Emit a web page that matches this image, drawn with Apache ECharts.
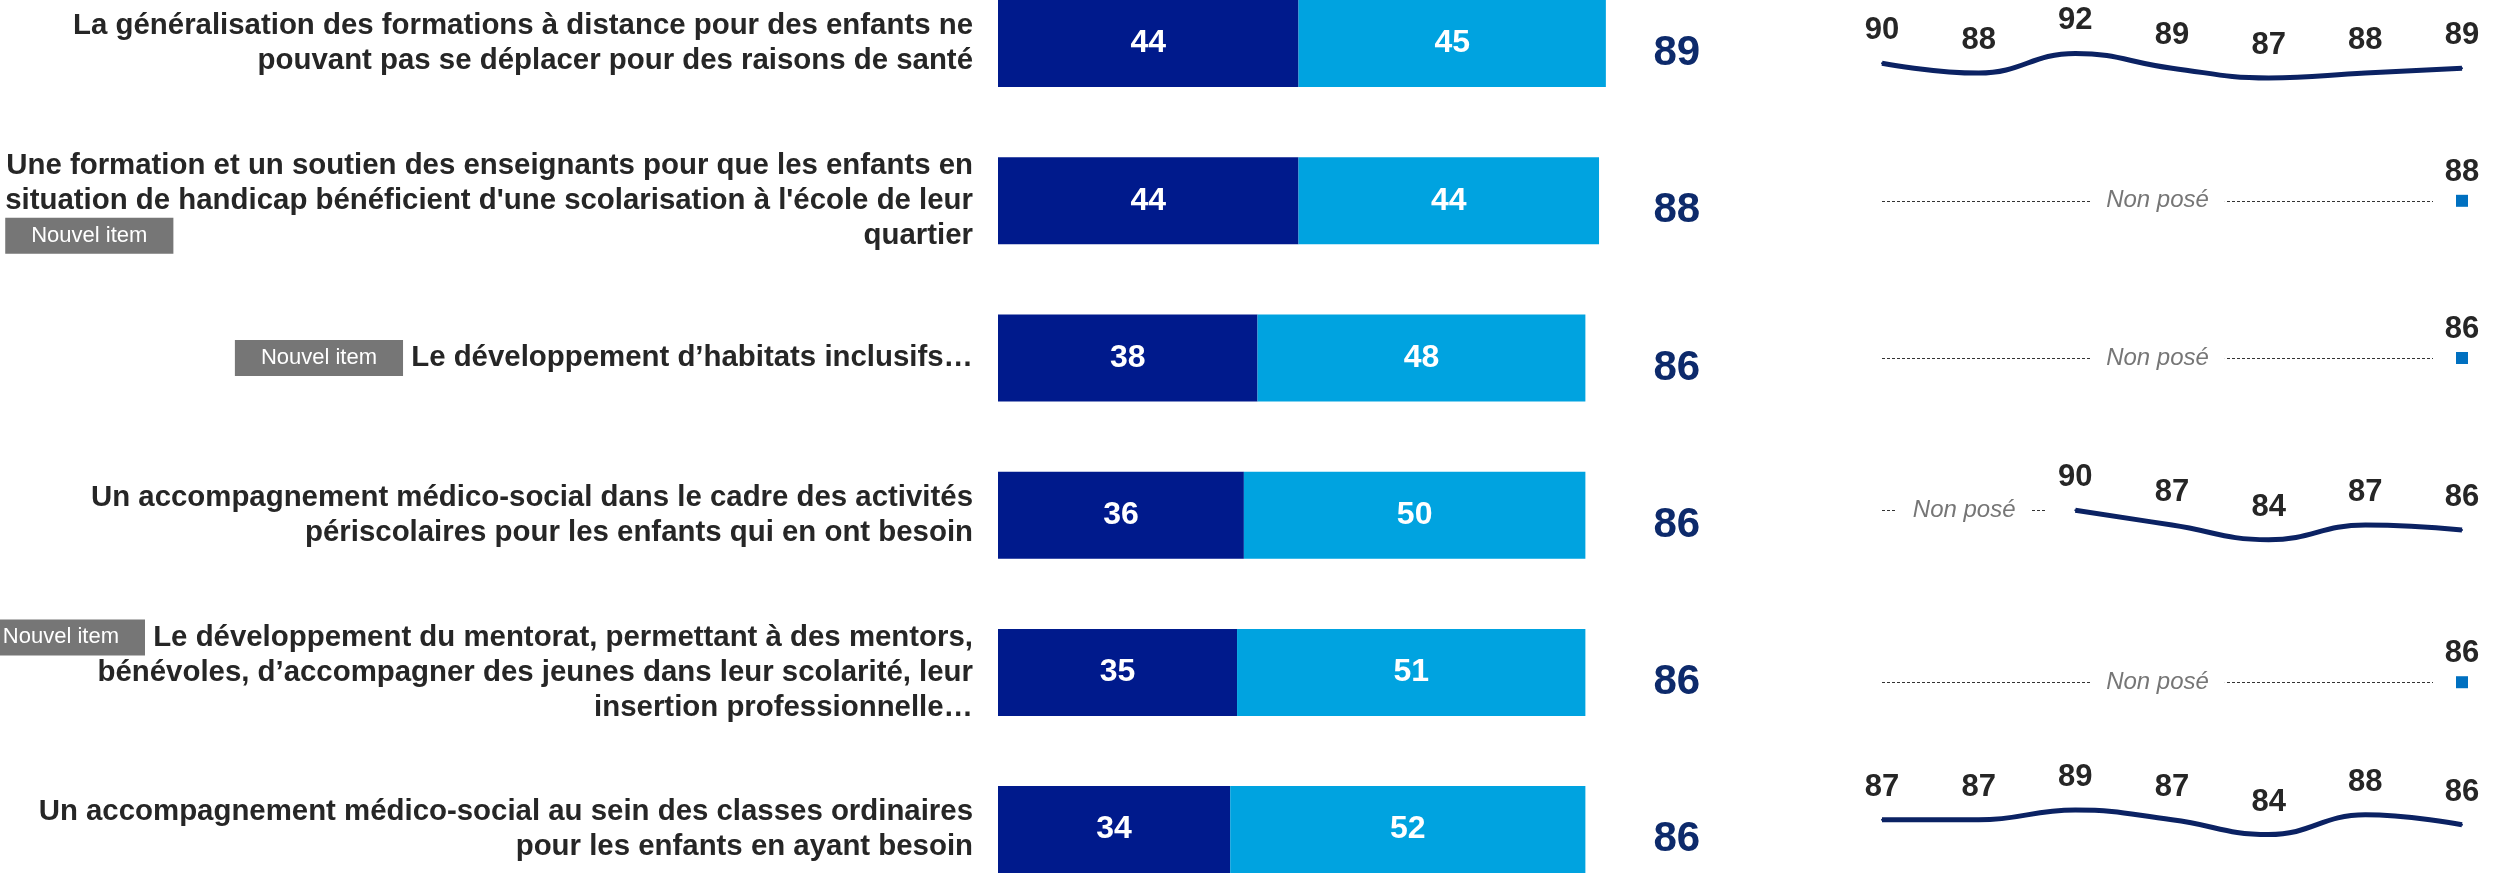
<!DOCTYPE html>
<html>
<head>
<meta charset="utf-8">
<script src="https://cdn.jsdelivr.net/npm/echarts@6.0.0/dist/echarts.min.js"></script>
<style>
  html, body { margin: 0; padding: 0; background: #fff; }
  #chart { width: 2494px; height: 873px; }
</style>
</head>
<body>
<div id="chart"></div>
<script>
// Libellés des items (retours à la ligne comme sur l'original)
const items = [
  "La généralisation des formations à distance pour des enfants ne\npouvant pas se déplacer pour des raisons de santé",
  "Une formation et un soutien des enseignants pour que les enfants en\nsituation de handicap bénéficient d'une scolarisation à l'école de leur\nquartier",
  "Le développement d’habitats inclusifs…",
  "Un accompagnement médico-social dans le cadre des activités\npériscolaires pour les enfants qui en ont besoin",
  "Le développement du mentorat, permettant à des mentors,\nbénévoles, d’accompagner des jeunes dans leur scolarité, leur\ninsertion professionnelle…",
  "Un accompagnement médico-social au sein des classes ordinaires\npour les enfants en ayant besoin"
];
// "Nouvel item" : avant le texte ou sous le texte
const badges = [null, "dessous", "avant", null, "avant", null];

const toutAFait = [44, 44, 38, 36, 35, 34];
const plutot = [45, 44, 48, 50, 51, 52];
const totaux = [89, 88, 86, 86, 86, 86];

// évolution sur 7 vagues (null = non posé)
const evolution = [
  [90, 88, 92, 89, 87, 88, 89],
  [null, null, null, null, null, null, 88],
  [null, null, null, null, null, null, 86],
  [null, null, 90, 87, 84, 87, 86],
  [null, null, null, null, null, null, 86],
  [87, 87, 89, 87, 84, 88, 86]
];

// mise en page
const rowBand = 157.2;
const gridTop = -35;
const barLeft = 998;
const unitPx = 6.83;
const xMax = 95;
const lineLeft = 1882;
const lineWidth = 580;
const miniRanges = [[78, 110], [72, 104], [70, 102], [73, 105], [72, 104], [69, 101]];

const chart = echarts.init(document.getElementById('chart'));

const grids = [{
  left: barLeft, top: gridTop, width: xMax * unitPx, height: rowBand * items.length,
  outerBoundsMode: 'none', containLabel: false
}];
const xAxes = [{ type: 'value', gridIndex: 0, min: 0, max: xMax, show: false }];
const yAxes = [
  {
    type: 'category', gridIndex: 0, inverse: true,
    data: items,
    axisLine: { show: false }, axisTick: { show: false },
    axisLabel: {
      interval: 0,
      margin: 25,
      formatter: (val, idx) => {
        const lines = items[idx].split('\n');
        const b = badges[idx];
        return lines.map((l, k) => {
          let s = '{t|' + l + '}';
          if (b === 'avant' && k === 0) s = '{nb|Nouvel item}{t| ' + l + '}';
          if (b === 'dessous' && k === lines.length - 1) s = '{nbg|Nouvel item}' + s;
          return s;
        }).join('\n');
      },
      rich: {
        t: { fontSize: 29.4, fontWeight: 'bold', color: '#262626', lineHeight: 35 },
        nb: { fontSize: 22, color: '#fff', backgroundColor: '#767676', padding: [7, 26], lineHeight: 23 },
        nbg: { fontSize: 22, color: '#fff', backgroundColor: '#767676', padding: [7, 26], lineHeight: 23, align: 'left' }
      }
    }
  },
  {
    type: 'category', gridIndex: 0, inverse: true, position: 'right',
    data: totaux,
    axisLine: { show: false }, axisTick: { show: false },
    axisLabel: {
      interval: 0, margin: 30, align: 'center', verticalAlign: 'top', lineHeight: 20,
      fontSize: 42, fontWeight: 'bold', color: '#0D2A6B'
    }
  }
];

const series = [
  {
    name: 'Tout à fait', type: 'bar', stack: 'total', xAxisIndex: 0, yAxisIndex: 0,
    barWidth: 87, data: toutAFait,
    itemStyle: { color: '#001A8C' },
    label: { show: true, position: 'inside', color: '#fff', fontWeight: 'bold', fontSize: 32 }
  },
  {
    name: 'Plutôt', type: 'bar', stack: 'total', xAxisIndex: 0, yAxisIndex: 0,
    barWidth: 87, data: plutot,
    itemStyle: { color: '#00A3E0' },
    label: { show: true, position: 'inside', color: '#fff', fontWeight: 'bold', fontSize: 32 }
  }
];

evolution.forEach((vals, i) => {
  const g = i + 1;
  grids.push({
    left: lineLeft, width: lineWidth, top: gridTop + rowBand * i, height: rowBand,
    outerBoundsMode: 'none', containLabel: false
  });
  xAxes.push({ type: 'value', gridIndex: g, min: 0, max: vals.length - 1, show: false });
  yAxes.push({ type: 'value', gridIndex: g, min: miniRanges[i][0], max: miniRanges[i][1], show: false });

  const pts = vals.map((v, k) => [k, v]).filter(d => d[1] != null);
  const nonPose = vals.findIndex(v => v != null);
  const single = pts.length === 1;

  const s = {
    type: 'line', xAxisIndex: g, yAxisIndex: g + 1,
    data: pts,
    smooth: 0.45,
    symbol: single ? 'rect' : 'circle',
    symbolSize: single ? 12 : 2,
    itemStyle: { color: single ? '#0070C0' : '#0B2263' },
    lineStyle: { color: '#0B2263', width: 5 },
    label: {
      show: true, position: 'top', distance: single ? 7 : 16,
      fontSize: 31, fontWeight: 'bold', color: '#262626'
    }
  };
  if (nonPose > 0) {
    const y = pts[0][1];
    s.markLine = {
      silent: true,
      symbol: ['none', 'none'],
      lineStyle: { type: [3, 2], color: '#333333', width: 1 },
      label: {
        show: true, position: 'insideMiddle', distance: 0, formatter: 'Non posé',
        fontSize: 24, fontStyle: 'italic', color: '#767676',
        backgroundColor: '#fff', padding: [2, 16]
      },
      data: [[{ coord: [0, y] }, { coord: [nonPose - 0.3, y] }]]
    };
  }
  series.push(s);
});

chart.setOption({
  animation: false,
  textStyle: { fontFamily: 'Liberation Sans, Arial, sans-serif' },
  grid: grids,
  xAxis: xAxes,
  yAxis: yAxes,
  series: series
});

window.addEventListener('resize', () => chart.resize());
</script>
</body>
</html>
